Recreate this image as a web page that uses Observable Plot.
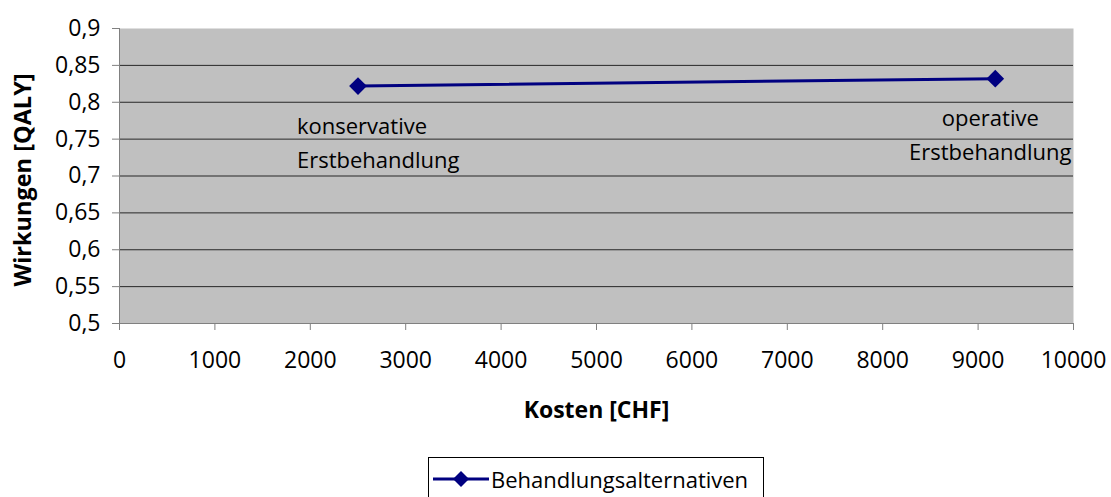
<!DOCTYPE html>
<html>
<head>
<meta charset="utf-8">
<script src="https://cdn.jsdelivr.net/npm/d3@7"></script>
<script src="https://cdn.jsdelivr.net/npm/@observablehq/plot@0.6"></script>
<style>
  body { margin: 0; background: white; font-family: "Open Sans", sans-serif; }
  #legend { margin-left: 428px; margin-top: 5px; width: 334px; height: 42px; border: 1px solid #000; border-bottom: none; display: flex; align-items: center; font-size: 22px; color: #000; }
  #legend svg { margin-left: 4px; }
</style>
</head>
<body>
<div id="chart"></div>
<div id="legend"><svg width="58" height="20"><line x1="0" y1="10" x2="56" y2="10" stroke="#000080" stroke-width="3"/><path d="M28,2 L36,10 L28,18 L20,10 Z" fill="#000080"/></svg><span>Behandlungsalternativen</span></div>
<script>
const costs = [2500, 9180];
const effects = [0.822, 0.832];
const pointLabels = ["konservative\nErstbehandlung", "operative\nErstbehandlung"];
const seriesName = "Behandlungsalternativen";
const xTicks = [0, 1000, 2000, 3000, 4000, 5000, 6000, 7000, 8000, 9000, 10000];
const yTicks = [0.5, 0.55, 0.6, 0.65, 0.7, 0.75, 0.8, 0.85, 0.9];
const yGrid = [0.55, 0.6, 0.65, 0.7, 0.75, 0.8, 0.85];
const xTitle = "Kosten [CHF]";
const yTitle = "Wirkungen [QALY]";

const data = costs.map((c, i) => ({x: c, y: effects[i], label: pointLabels[i]}));
const fmtY = d => String(d).replace(".", ",");

const chart = Plot.plot({
  width: 1111,
  height: 452,
  marginLeft: 119,
  marginRight: 38,
  marginTop: 28,
  marginBottom: 129,
  style: {fontFamily: "'Open Sans', sans-serif", fontSize: "23px", background: "white", color: "#000"},
  x: {domain: [0, 10000]},
  y: {domain: [0.5, 0.9]},
  marks: [
    Plot.frame({fill: "#c0c0c0", stroke: null}),
    Plot.ruleY(yGrid, {stroke: "#000", strokeWidth: 1, strokeOpacity: 0.8}),
    Plot.axisX({ticks: xTicks, tickFormat: d => String(d), tickSize: 7, tickPadding: 21, stroke: "#808080", label: null}),
    Plot.axisY({ticks: yTicks, tickFormat: fmtY, tickSize: 7, tickPadding: 12, stroke: "#808080", label: null}),
    Plot.ruleX([0], {stroke: "#808080", strokeWidth: 1}),
    Plot.ruleY([0.5], {stroke: "#808080", strokeWidth: 1}),
    Plot.line(data, {x: "x", y: "y", stroke: "#000080", strokeWidth: 3}),
    Plot.dot(data, {x: "x", y: "y", symbol: "diamond2", r: 8, fill: "#000080", stroke: null}),
    Plot.text(data.slice(0, 1), {x: "x", y: "y", text: "label", textAnchor: "start", lineAnchor: "top", dx: -61, dy: 24, lineHeight: 1.55, fontSize: 22}),
    Plot.text(data.slice(1), {x: "x", y: "y", text: "label", textAnchor: "middle", lineAnchor: "top", dx: -5, dy: 23, lineHeight: 1.55, fontSize: 22}),
    Plot.text([xTitle], {frameAnchor: "bottom", lineAnchor: "middle", dy: 87, fontWeight: "bold", fontSize: 23}),
    Plot.text([yTitle], {frameAnchor: "left", textAnchor: "middle", lineAnchor: "middle", dx: -96, dy: 4, rotate: -90, fontWeight: "bold", fontSize: 23.5})
  ]
});
d3.select(chart).selectAll('[aria-label$="tick label"]').attr("font-size", 23).style("font-size", "23px");
document.getElementById("chart").appendChild(chart);
</script>
</body>
</html>
